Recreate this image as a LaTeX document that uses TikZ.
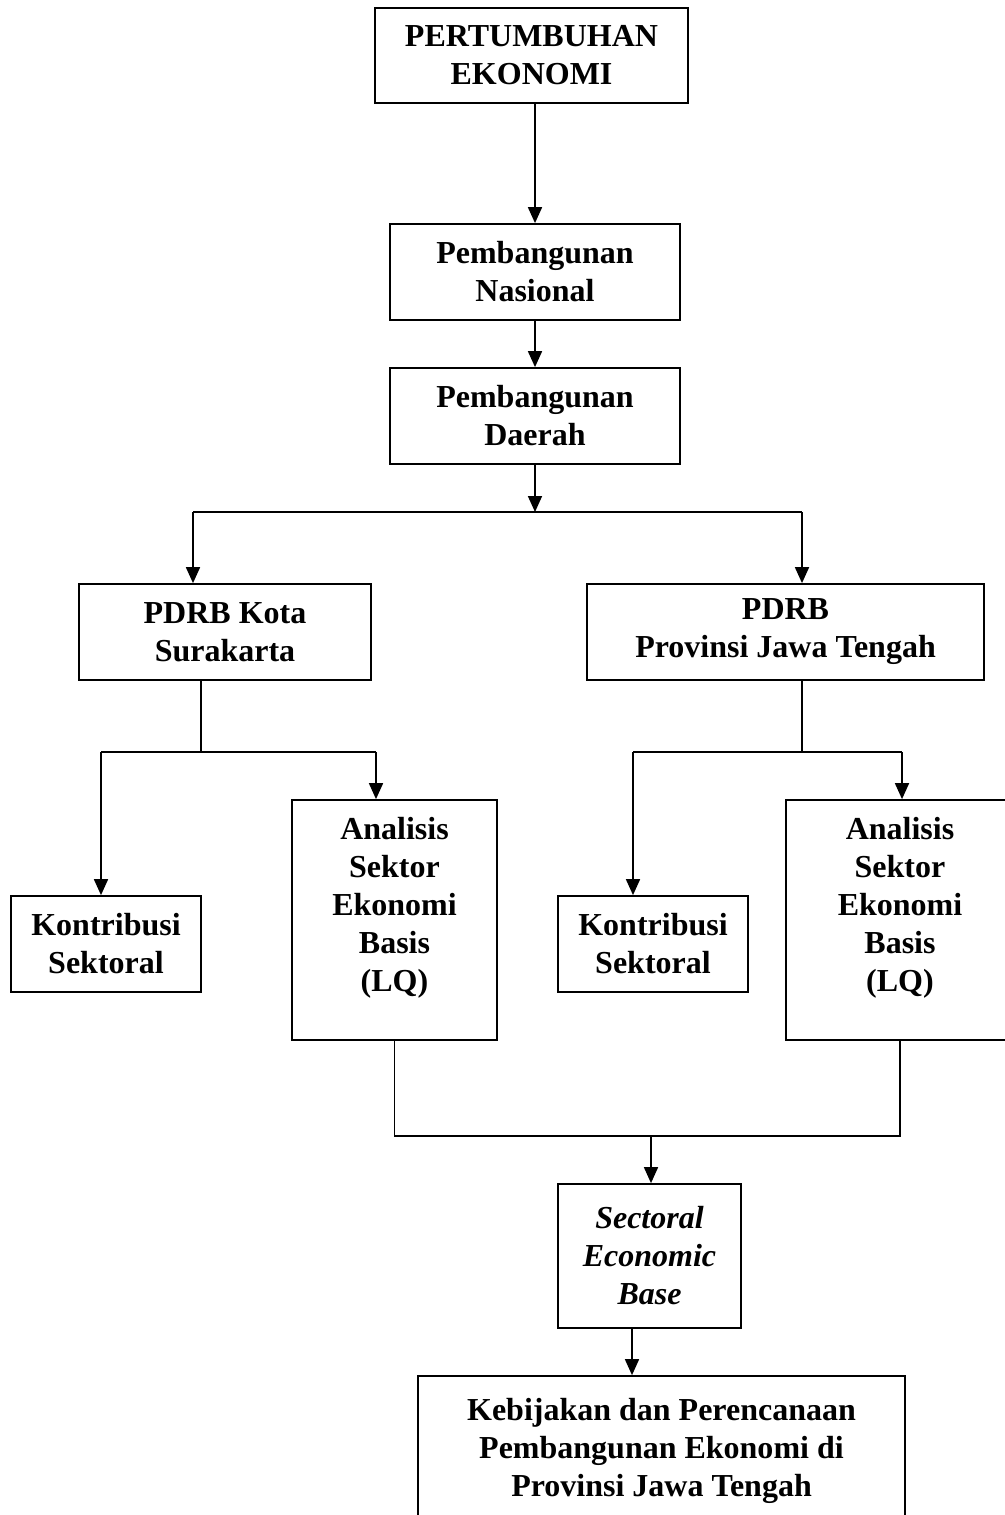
\documentclass[tikz,border=0pt]{standalone}
\usepackage{fontspec}
\setmainfont{Liberation Serif}
\usetikzlibrary{arrows.meta}
\tikzset{>={Triangle[width=10.5pt,length=12pt]}}
\tikzset{
  box/.style={draw, line width=1.3pt, inner sep=0pt, align=center,
    font=\fontsize{24}{28.5}\selectfont\bfseries},
  link/.style={line width=1.3pt}
}

\begin{document}
\begin{tikzpicture}[x=0.75pt, y=-0.75pt]

  \newcommand\U{0.75pt}

  \clip (0,0) rectangle (1005,1515);
  \useasboundingbox (0,0) rectangle (1005,1515);

  % top chain
  \node[box, minimum width=313*\U, minimum height=95*\U] (growth) at (531.5,55.5) {PERTUMBUHAN\\EKONOMI};
  \node[box, minimum width=290*\U, minimum height=96*\U] (nasional) at (535,272) {Pembangunan\\Nasional};
  \node[box, minimum width=290*\U, minimum height=96*\U] (daerah) at (535,416) {Pembangunan\\Daerah};

  % PDRB
  \node[box, minimum width=292*\U, minimum height=96*\U] (kota) at (225,632) {PDRB Kota\\Surakarta};
  \node[box, minimum width=397*\U, minimum height=96*\U] (prov) at (785.5,632) {PDRB\\Provinsi Jawa Tengah};

  % sektor
  \node[box, minimum width=190*\U, minimum height=96*\U] (kontrL) at (106,944) {Kontribusi\\Sektoral};
  \node[box, minimum width=205*\U, minimum height=240*\U] (lqL) at (394.5,920) {Analisis\\Sektor\\Ekonomi\\Basis\\(LQ)\\[-5pt]\mbox{}};
  \node[box, minimum width=190*\U, minimum height=96*\U] (kontrR) at (653,944) {Kontribusi\\Sektoral};
  \node[box, minimum width=228*\U, minimum height=240*\U] (lqR) at (900,920) {Analisis\\Sektor\\Ekonomi\\Basis\\(LQ)\\[-5pt]\mbox{}};

  % hasil
  \node[box, minimum width=183*\U, minimum height=144*\U, font=\fontsize{24}{28.5}\selectfont\bfseries\itshape] (sectoral) at (649.5,1256) {Sectoral\\Economic\\Base};
  \node[box, minimum width=487*\U, minimum height=150*\U] (policy) at (661.5,1451) {Kebijakan dan Perencanaan\\Pembangunan Ekonomi di\\Provinsi Jawa Tengah};

  \coordinate (split) at (535,512);
  \coordinate (kotaIn) at (193,512);
  \coordinate (provIn) at (802,512);
  \coordinate (kotaSplit) at (201,752);
  \coordinate (kontrLIn) at (101,752);
  \coordinate (lqLIn) at (376,752);
  \coordinate (provSplit) at (802,752);
  \coordinate (kontrRIn) at (633,752);
  \coordinate (lqRIn) at (902,752);
  \coordinate (merge) at (651,1136);
  \coordinate (baseOut) at (632,1328);

  \draw[link,->] (nasional.north |- growth.south) -- (nasional.north);
  \draw[link,->] (nasional) -- (daerah);
  \draw[link,->] (daerah) -- (split);

  \draw[link] (kotaIn) -- (provIn);
  \draw[link,->] (kotaIn) -- (kotaIn |- kota.north);
  \draw[link,->] (provIn) -- (provIn |- prov.north);

  \draw[link] (kotaSplit |- kota.south) -- (kotaSplit);
  \draw[link] (kontrLIn) -- (lqLIn);
  \draw[link,->] (kontrLIn) -- (kontrLIn |- kontrL.north);
  \draw[link,->] (lqLIn) -- (lqLIn |- lqL.north);

  \draw[link] (provSplit |- prov.south) -- (provSplit);
  \draw[link] (kontrRIn) -- (lqRIn);
  \draw[link,->] (kontrRIn) -- (kontrRIn |- kontrR.north);
  \draw[link,->] (lqRIn) -- (lqRIn |- lqR.north);

  \draw[link] (lqL.south) |- (merge) -| (lqR.south);
  \draw[link,->] (merge) -- (merge |- sectoral.north);
  \draw[link,->] (baseOut) -- (baseOut |- policy.north);

\end{tikzpicture}
\end{document}
